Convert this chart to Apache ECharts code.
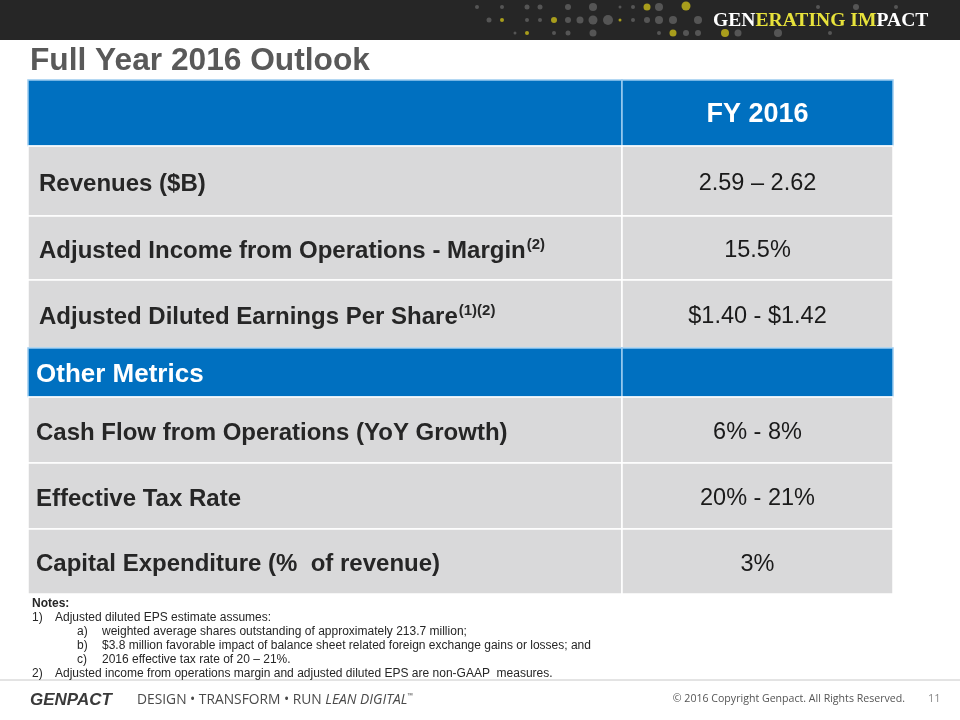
<!DOCTYPE html>
<html>
<head>
<meta charset="utf-8">
<script src="https://cdn.jsdelivr.net/npm/echarts@6/dist/echarts.min.js"></script>
<style>html,body{margin:0;padding:0;background:#fff}#c{width:960px;height:720px}</style>
</head>
<body>
<div id="c"></div>
<script>
// ---- data ----
const title = 'Full Year 2016 Outlook';
const metrics = ['', 'Revenues ($B)', 'Adjusted Income from Operations - Margin', 'Adjusted Diluted Earnings Per Share',
  'Other Metrics', 'Cash Flow from Operations (YoY Growth)', 'Effective Tax Rate', 'Capital Expenditure (%  of revenue)'];
const footnoteRefs = ['', '', '(2)', '(1)(2)', '', '', '', ''];
const outlook = ['FY 2016', '2.59 \u2013 2.62', '15.5%', '$1.40 - $1.42', '', '6% - 8%', '20% - 21%', '3%'];
const headerRows = [0, 4];
const notes = [
  ['Notes:', 0, true],
  ['1)', 0], ['Adjusted diluted EPS estimate assumes:', 1],
  ['a)', 2], ['weighted average shares outstanding of approximately 213.7 million;', 3],
  ['b)', 2], ['$3.8 million favorable impact of balance sheet related foreign exchange gains or losses; and', 3],
  ['c)', 2], ['2016 effective tax rate of 20 \u2013 21%.', 3],
  ['2)', 0], ['Adjusted income from operations margin and adjusted diluted EPS are non-GAAP  measures.', 1]
];

// ---- layout (not data) ----
const rowHeights = [66, 70, 64, 68, 49, 66, 66, 65];
const rowEdges = [0];
rowHeights.forEach(h => rowEdges.push(rowEdges[rowEdges.length - 1] + h));
const tableW = 865, splitW = 594;
const BLUE = '#0070C0', GRAY = '#D9D9DA';
const FONT = '"Liberation Sans", Arial, sans-serif';

const chart = echarts.init(document.getElementById('c'), null, {renderer: 'canvas'});

function renderItem(params, api) {
  const i = api.value(0);
  const tl = api.coord([0, rowEdges[i]]);
  const mid = api.coord([splitW, rowEdges[i + 1]]);
  const br = api.coord([tableW, rowEdges[i + 1]]);
  const isHead = headerRows.indexOf(i) >= 0;
  const fill = isHead ? BLUE : GRAY;
  const cy = (tl[1] + br[1]) / 2 + 3;
  const children = [
    {type: 'rect', shape: {x: tl[0], y: tl[1], width: mid[0] - tl[0], height: br[1] - tl[1]},
      style: {fill: fill, stroke: isHead ? '#9ccbf0' : '#ffffff', lineWidth: 1.5}},
    {type: 'rect', shape: {x: mid[0], y: tl[1], width: br[0] - mid[0], height: br[1] - tl[1]},
      style: {fill: fill, stroke: isHead ? '#9ccbf0' : '#ffffff', lineWidth: 1.5}}
  ];
  const lab = metrics[i];
  if (lab) {
    const big = i >= 4;
    const fs = i === 4 ? 26 : 24;
    let txt = '{a|' + lab + '}';
    if (footnoteRefs[i]) txt += '{s|' + footnoteRefs[i] + '}';
    children.push({type: 'text', style: {
      text: txt, x: tl[0] + (big ? 8 : 11), y: cy - (i === 4 ? 1 : 0), verticalAlign: 'middle', align: 'left',
      rich: {
        a: {fontFamily: FONT, fontWeight: 'bold', fontSize: fs, fill: i === 4 ? '#ffffff' : '#262626', lineHeight: 28},
        s: {fontFamily: FONT, fontWeight: 'bold', fontSize: 15, fill: '#262626', verticalAlign: 'top', lineHeight: 28, padding: [0, 0, 10, 1]}
      }
    }});
  }
  const v = outlook[i];
  if (v) {
    children.push({type: 'text', style: {
      text: v, x: (mid[0] + br[0]) / 2, y: cy - (i === 0 ? 1 : 0), align: 'center', verticalAlign: 'middle',
      font: (i === 0 ? 'bold 27px ' : '23.5px ') + FONT, fill: i === 0 ? '#ffffff' : '#1a1a1a'
    }});
  }
  return {type: 'group', children: children};
}

// banner dots: [x, y, r, yellow]
const dots = [
  [477,7,2],[502,7,2],[527,7,2.5],[540,7,2.5],[568,7,3],[593,7,4],[620,7,1.5],[633,7,2],[647,7,3.5,1],[659,7,4],[686,6,4.5,1],[818,7,2],[856,7,3],[896,7,2],
  [489,20,2.5],[502,20,2,1],[527,20,2],[540,20,2],[554,20,3,1],[568,20,3],[580,20,3.5],[593,20,4.5],[608,20,5],[620,20,1.5,1],[633,20,2],[647,20,3],[659,20,4],[673,20,4],[698,20,4],
  [515,33,1.5],[527,33,2,1],[554,33,2],[568,33,2.5],[593,33,3.5],[659,33,2],[673,33,3.5,1],[686,33,3],[698,33,3],[725,33,4,1],[738,33,3.5],[778,33,4],[830,33,2]
];

const graphics = [
  {type: 'rect', shape: {x: 0, y: 0, width: 960, height: 40}, style: {fill: '#262626'}, z: 0},
  {type: 'text', x: 713, y: 21, style: {
    text: '{w|GEN}{y|ERATING}{w| }{y|IM}{w|PACT}', verticalAlign: 'middle',
    rich: {w: {fontFamily: '"Liberation Serif", serif', fontWeight: 'bold', fontSize: 19.6, fill: '#ffffff'},
           y: {fontFamily: '"Liberation Serif", serif', fontWeight: 'bold', fontSize: 19.6, fill: '#e7e23b'}}
  }},
  {type: 'text', x: 30, y: 61, style: {text: title, font: 'bold 31.7px ' + FONT, fill: '#595959', verticalAlign: 'middle'}},
  {type: 'line', shape: {x1: 0, y1: 680, x2: 960, y2: 680}, style: {stroke: '#c8c8c8', lineWidth: 1}},
  {type: 'text', x: 30, y: 700, style: {text: 'GENPACT', font: 'italic bold 17px ' + FONT, fill: '#3a3a3a', verticalAlign: 'middle'}},
  {type: 'text', x: 137, y: 700, style: {
    text: '{a|DESIGN \u2022 TRANSFORM \u2022 RUN }{b|LEAN DIGITAL}{c|\u2122}', verticalAlign: 'middle',
    rich: {a: {fontFamily: '"Open Sans", sans-serif', fontSize: 13.8, fill: '#4a4a4a'},
           b: {fontFamily: '"Open Sans", sans-serif', fontStyle: 'italic', fontSize: 13.8, fill: '#4a4a4a'},
           c: {fontFamily: '"Open Sans", sans-serif', fontSize: 7, fill: '#4a4a4a', verticalAlign: 'top', padding: [0, 0, 8, 0]}}
  }},
  {type: 'text', x: 905, y: 699, style: {text: '\u00a9 2016 Copyright Genpact. All Rights Reserved.', font: '10.6px "Open Sans", sans-serif', fill: '#555', align: 'right', verticalAlign: 'middle'}},
  {type: 'text', x: 928, y: 699, style: {text: '11', font: '11px "Open Sans", sans-serif', fill: '#888', verticalAlign: 'middle'}}
];
dots.forEach(d => graphics.push({type: 'circle', shape: {cx: d[0], cy: d[1], r: d[2]},
  style: {fill: d[3] ? '#a89d1c' : '#555555'}}));

const indents = [32, 55, 77, 102];
let ny = 604;
notes.forEach((n, k) => {
  const level = n[1];
  if (k > 0 && (level === 0 || level === 2)) ny += 14;
  graphics.push({type: 'text', x: indents[level], y: ny, style: {
    text: n[0], font: (n[2] ? 'bold ' : '') + '12px ' + FONT, fill: '#262626', verticalAlign: 'middle'}});
});

chart.setOption({
  animation: false,
  grid: {left: 28, right: 960 - 28 - tableW, top: 80, height: rowEdges[rowEdges.length - 1]},
  xAxis: {type: 'value', min: 0, max: tableW, show: false},
  yAxis: {type: 'value', min: 0, max: rowEdges[rowEdges.length - 1], inverse: true, show: false},
  graphic: graphics,
  series: [{type: 'custom', renderItem: renderItem, data: metrics.map((m, i) => [i]), clip: false}]
});
</script>
</body>
</html>
